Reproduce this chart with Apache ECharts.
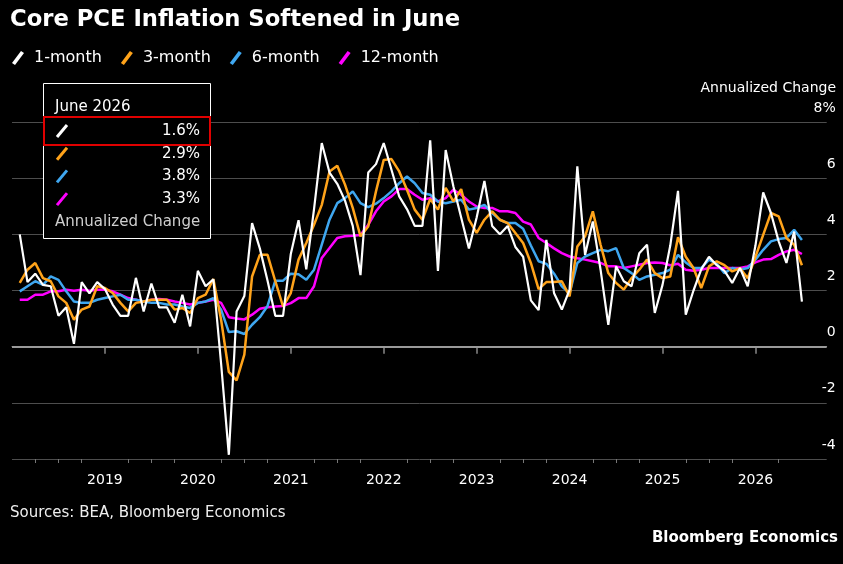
<!DOCTYPE html>
<html>
<head>
<meta charset="utf-8">
<script src="https://cdn.jsdelivr.net/npm/echarts@6.0.0/dist/echarts.min.js"></script>
<style>
  html, body { margin: 0; padding: 0; background: #000; }
  #chart { width: 843px; height: 564px; }
</style>
</head>
<body>
<div id="chart"></div>
<script>
// Core PCE, annualized change, monthly points from Jan 2018 to Jun 2026 (plotted at month end).
const FIRST_YEAR = 2018;
const YEAR_LABELS = [2019, 2020, 2021, 2022, 2023, 2024, 2025, 2026];
const LATEST_LABEL = 'June 2026';

const ONE_MONTH = [
  4.0, 2.3, 2.6, 2.2, 2.15, 1.1, 1.4, 0.1, 2.3, 1.9, 2.3, 2.05,
  1.5, 1.1, 1.1, 2.45, 1.25, 2.25, 1.4, 1.4, 0.85, 1.85, 0.72, 2.7,
  2.15, 2.4, -0.6, -3.85, 1.25, 1.8, 4.4, 3.5, 2.35, 1.1, 1.1, 3.3,
  4.5, 2.75, 4.9, 7.25, 6.2, 5.8, 5.2, 4.3, 2.55, 6.2, 6.5, 7.25,
  6.3, 5.35, 4.9, 4.3, 4.3, 7.35, 2.7, 7.0, 5.7, 4.6, 3.5, 4.6,
  5.9, 4.3, 4.0, 4.3, 3.55, 3.2, 1.65, 1.3, 3.8, 1.9, 1.32, 2.03,
  6.42, 3.27, 4.46, 2.74, 0.78, 2.86, 2.33, 2.15, 3.33, 3.63, 1.2, 2.2,
  3.6, 5.55, 1.14, 2.0, 2.75, 3.2, 2.9, 2.7, 2.27, 2.8, 2.15, 3.6,
  5.49, 4.76, 3.75, 2.98, 4.1, 1.6,
];
const THREE_MONTH = [
  2.27, 2.74, 2.98, 2.44, 2.33, 1.79, 1.56, 0.96, 1.32, 1.43, 2.15, 2.09,
  1.91, 1.56, 1.26, 1.56, 1.61, 1.67, 1.67, 1.67, 1.32, 1.38, 1.2, 1.73,
  1.85, 2.41, 0.96, -0.9, -1.2, -0.28, 2.5, 3.27, 3.27, 2.33, 1.43, 1.91,
  3.1, 3.69, 4.34, 5.05, 6.24, 6.44, 5.77, 4.94, 3.93, 4.28, 5.53, 6.65,
  6.68, 6.24, 5.59, 4.88, 4.52, 5.26, 4.88, 5.65, 5.17, 5.61, 4.52, 4.05,
  4.52, 4.82, 4.52, 4.4, 4.05, 3.69, 2.98, 2.05, 2.3, 2.3, 2.33, 1.79,
  3.57, 3.93, 4.82, 3.63, 2.62, 2.27, 2.03, 2.44, 2.74, 3.1, 2.62, 2.44,
  2.5, 3.9, 3.2, 2.8, 2.09, 2.86, 3.04, 2.9, 2.68, 2.8, 2.44, 3.2,
  3.98, 4.76, 4.64, 3.87, 3.63, 2.9,
];
const SIX_MONTH = [
  1.97, 2.15, 2.33, 2.2, 2.5, 2.38, 1.97, 1.61, 1.56, 1.56, 1.67, 1.73,
  1.79, 1.85, 1.67, 1.67, 1.61, 1.56, 1.56, 1.5, 1.5, 1.43, 1.38, 1.56,
  1.61, 1.73, 1.32, 0.52, 0.55, 0.45, 0.78, 1.05, 1.45, 2.35, 2.35, 2.6,
  2.58, 2.38, 2.74, 3.63, 4.52, 5.11, 5.29, 5.53, 5.11, 4.97, 5.09, 5.29,
  5.53, 5.82, 6.06, 5.82, 5.47, 5.41, 5.17, 5.11, 5.17, 5.23, 4.88, 4.94,
  5.05, 4.76, 4.52, 4.4, 4.4, 4.2, 3.6, 3.04, 2.95, 2.6, 2.15, 1.9,
  2.98, 3.21, 3.33, 3.45, 3.4, 3.51, 2.8, 2.62, 2.38, 2.5, 2.56, 2.62,
  2.74, 3.27, 3.0, 2.8, 2.8, 3.1, 2.95, 2.62, 2.8, 2.74, 2.8, 3.1,
  3.45, 3.75, 3.83, 3.87, 4.16, 3.8,
];
const TWELVE_MONTH = [
  1.67, 1.67, 1.85, 1.85, 1.97, 1.97, 2.03, 1.99, 2.03, 1.99, 2.03, 2.03,
  1.97, 1.85, 1.73, 1.67, 1.61, 1.67, 1.7, 1.67, 1.61, 1.56, 1.5, 1.56,
  1.61, 1.67, 1.56, 1.05, 1.0, 0.97, 1.14, 1.35, 1.4, 1.43, 1.45, 1.55,
  1.73, 1.73, 2.15, 3.16, 3.51, 3.87, 3.93, 3.95, 3.98, 4.34, 4.82, 5.17,
  5.35, 5.61, 5.61, 5.41, 5.23, 5.29, 5.17, 5.29, 5.59, 5.41, 5.17, 4.99,
  4.94, 4.94, 4.82, 4.82, 4.76, 4.45, 4.35, 3.87, 3.69, 3.5, 3.33, 3.21,
  3.15, 3.1, 3.04, 2.98, 2.86, 2.86, 2.8, 2.86, 2.92, 2.98, 3.0, 2.98,
  2.9, 2.95, 2.74, 2.7, 2.74, 2.8, 2.8, 2.8, 2.8, 2.8, 2.86, 3.0,
  3.1, 3.12, 3.27, 3.39, 3.45, 3.3,
];

const SERIES = [
  { name: '1-month', data: ONE_MONTH, color: '#ffffff', width: 2.2 },
  { name: '3-month', data: THREE_MONTH, color: '#ffa31a', width: 2.5 },
  { name: '6-month', data: SIX_MONTH, color: '#3fa7f0', width: 2.5 },
  { name: '12-month', data: TWELVE_MONTH, color: '#ff00ff', width: 2.5 },
];

const FONT = 'DejaVu Sans';
const ICON = 'path://M0,12 L9,0 L12,2 L3,14 Z';

// x is measured in months since 1 Jan 2018; point i sits at the end of its month.
const toPoints = (arr) => arr.map((v, i) => [i + 1, v]);
const yearTicks = YEAR_LABELS.map((y) => (y - FIRST_YEAR) * 12);
const quarterTicks = [];
for (let m = 3; m < ONE_MONTH.length; m += 3) {
  if (m % 12 !== 0) quarterTicks.push(m);
}
const last = (arr) => arr[arr.length - 1];

const chart = echarts.init(document.getElementById('chart'), null, { renderer: 'canvas' });

// hover box pinned at the latest month
const tipRows = SERIES.map((s, i) => {
  const cy = 131 + i * 22.7;
  return [
    {
      type: 'line', z: 101,
      shape: { x1: 57, y1: cy + 6, x2: 67, y2: cy - 6 },
      style: { stroke: s.color, lineWidth: 3 },
    },
    {
      type: 'text', z: 101, x: 200, y: cy,
      style: {
        text: `${last(s.data).toFixed(1)}%`, fill: '#fff', font: `15px "${FONT}"`,
        align: 'right', verticalAlign: 'middle',
      },
    },
  ];
}).flat();

chart.setOption({
  backgroundColor: '#000',
  animation: false,
  grid: { left: 12, right: 16.3, top: 122, bottom: 105, containLabel: false, outerBoundsMode: 'none' },
  legend: {
    left: 12, top: 50, padding: 0,
    itemWidth: 12, itemHeight: 14, itemGap: 19,
    icon: ICON,
    data: SERIES.map((s) => s.name),
    textStyle: { color: '#fff', fontSize: 16, fontFamily: FONT, padding: [0, 0, 0, 5] },
    selectedMode: false,
  },
  xAxis: [
    {
      type: 'value', min: 0, max: 105.2, position: 'bottom',
      axisLine: { show: true, lineStyle: { color: '#777', width: 1 } },
      axisTick: { show: true, length: 7, customValues: yearTicks, lineStyle: { color: '#888', width: 1.5 } },
      axisLabel: {
        customValues: yearTicks,
        formatter: (v) => String(FIRST_YEAR + Math.round(v / 12)),
        color: '#fff', fontSize: 14, fontFamily: FONT, margin: 14,
      },
      splitLine: { show: false },
    },
    {
      type: 'value', min: 0, max: 105.2, position: 'bottom',
      axisLine: { show: false },
      axisTick: { show: true, length: 4, customValues: quarterTicks, lineStyle: { color: '#777', width: 1 } },
      axisLabel: { show: false },
      splitLine: { show: false },
    },
  ],
  yAxis: {
    type: 'value', position: 'right', min: -4, max: 8, interval: 2,
    axisLine: { show: false },
    axisTick: { show: false },
    axisLabel: {
      formatter: (v) => (v === 8 ? '8%' : String(v)),
      color: '#fff', fontSize: 14, fontFamily: FONT,
      margin: 9, align: 'right', verticalAlign: 'bottom', lineHeight: 28,
    },
    splitLine: { show: true, lineStyle: { color: '#4d4d4d', width: 1 } },
  },
  series: SERIES.slice().reverse().map((s, k) => ({
    name: s.name,
    type: 'line',
    xAxisIndex: 0,
    data: toPoints(s.data),
    showSymbol: false,
    color: s.color,
    itemStyle: { color: s.color },
    lineStyle: { color: s.color, width: s.width },
    z: 3 + k,
    markLine: k === 0 ? {
      silent: true, symbol: 'none', label: { show: false },
      lineStyle: { color: '#9a9a9a', width: 2, type: 'solid' },
      data: [{ yAxis: 0 }],
      z: 1,
    } : undefined,
  })),
  graphic: [
    {
      type: 'text', left: 10, top: 9,
      style: { text: 'Core PCE Inflation Softened in June', fill: '#fff', font: `bold 22.7px "${FONT}"` },
    },
    {
      type: 'text', x: 836, y: 88,
      style: { text: 'Annualized Change', fill: '#fff', font: `14px "${FONT}"`, align: 'right', verticalAlign: 'middle' },
    },
    {
      type: 'text', x: 10, y: 513,
      style: { text: 'Sources: BEA, Bloomberg Economics', fill: '#eee', font: `15px "${FONT}"`, verticalAlign: 'middle' },
    },
    {
      type: 'text', x: 838, y: 538,
      style: { text: 'Bloomberg Economics', fill: '#fff', font: `bold 15px "${FONT}"`, align: 'right', verticalAlign: 'middle' },
    },
    {
      type: 'rect', z: 100,
      shape: { x: 43.5, y: 83.5, width: 167, height: 155 },
      style: { fill: '#000', stroke: '#fff', lineWidth: 1 },
    },
    {
      type: 'text', z: 101, x: 55, y: 107,
      style: { text: LATEST_LABEL, fill: '#fff', font: `15px "${FONT}"`, verticalAlign: 'middle' },
    },
    {
      type: 'rect', z: 102,
      shape: { x: 44, y: 117, width: 166, height: 28 },
      style: { fill: 'none', stroke: '#e00000', lineWidth: 2 },
    },
    ...tipRows,
    {
      type: 'text', z: 101, x: 55, y: 222,
      style: { text: 'Annualized Change', fill: '#cfcfcf', font: `15px "${FONT}"`, verticalAlign: 'middle' },
    },
  ],
});
</script>
</body>
</html>
